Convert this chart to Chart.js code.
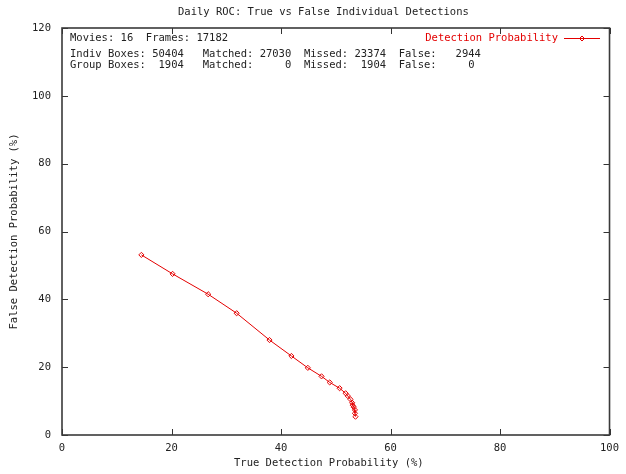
<!DOCTYPE html>
<html>
<head>
<meta charset="utf-8">
<script src="https://cdn.jsdelivr.net/npm/chart.js@4/dist/chart.umd.min.js"></script>
<style>
html,body{margin:0;padding:0;background:#fff;}
#wrap{width:626px;height:474px;}
</style>
</head>
<body>
<div id="wrap"><canvas id="c" width="626" height="474"></canvas></div>
<script>
// ---- data ----
const chartTitle = "Daily ROC: True vs False Individual Detections";
const xTitle = "True Detection Probability (%)";
const yTitle = "False Detection Probability (%)";
const seriesName = "Detection Probability";
const trueDet  = [14.5, 20.2, 26.7, 31.9, 37.9, 41.9, 44.9, 47.4, 48.9, 50.7, 51.8, 52.2, 52.7, 53.0, 53.1, 53.3, 53.5, 53.5, 53.6];
const falseDet = [53.1, 47.5, 41.5, 35.9, 28.0, 23.3, 19.8, 17.3, 15.5, 13.8, 12.3, 11.5, 10.5, 9.5, 8.8, 8.2, 7.4, 6.4, 5.4];
const xTicks = [0, 20, 40, 60, 80, 100];
const yTicks = [0, 20, 40, 60, 80, 100, 120];
const statLines = [
  "Movies: 16  Frames: 17182",
  "Indiv Boxes: 50404   Matched: 27030  Missed: 23374  False:   2944",
  "Group Boxes:  1904   Matched:     0  Missed:  1904  False:     0"
];

const FONT = "'DejaVu Sans Mono', 'Liberation Mono', monospace";
const FS = 10.5;
const RED = "rgb(228,0,0)";
const INK = "#222";

const points = trueDet.map((x, i) => ({x: x, y: falseDet[i]}));

const decor = {
  id: 'decor',
  afterDraw(chart) {
    const ctx = chart.ctx;
    const ca = chart.chartArea;
    const xs = chart.scales.x, ys = chart.scales.y;
    ctx.save();
    // ticks (inward, mirrored)
    ctx.strokeStyle = "#333";
    ctx.lineWidth = 1;
    const tl = 6;
    xTicks.forEach(v => {
      const p = Math.round(xs.getPixelForValue(v)) + 0.5;
      ctx.beginPath();
      ctx.moveTo(p, ca.bottom); ctx.lineTo(p, ca.bottom - tl);
      ctx.moveTo(p, ca.top); ctx.lineTo(p, ca.top + tl);
      ctx.stroke();
    });
    yTicks.forEach(v => {
      const p = Math.round(ys.getPixelForValue(v)) + 0.5;
      ctx.beginPath();
      ctx.moveTo(ca.left, p); ctx.lineTo(ca.left + tl, p);
      ctx.moveTo(ca.right, p); ctx.lineTo(ca.right - tl, p);
      ctx.stroke();
    });
    // frame
    ctx.strokeStyle = "#3a3a3a";
    ctx.lineWidth = 1.6;
    ctx.strokeRect(ca.left, ca.top, ca.right - ca.left, ca.bottom - ca.top);
    // title
    ctx.font = FS + "px " + FONT;
    ctx.fillStyle = INK;
    ctx.textBaseline = "middle";
    ctx.textAlign = "left";
    ctx.fillText(chartTitle, 178, 12);
    // x axis title
    ctx.fillText(xTitle, 234, 463);
    // stats text
    const ys0 = [38, 54.5, 65.5];
    statLines.forEach((s, i) => ctx.fillText(s, ca.left + 8, ys0[i]));
    // legend
    ctx.fillStyle = RED;
    ctx.textAlign = "right";
    ctx.fillText(seriesName, 558, 38);
    ctx.strokeStyle = RED;
    ctx.lineWidth = 1;
    ctx.beginPath();
    ctx.moveTo(564, 38.5); ctx.lineTo(600, 38.5);
    ctx.stroke();
    ctx.beginPath();
    ctx.moveTo(582, 36); ctx.lineTo(584.5, 38.5); ctx.lineTo(582, 41); ctx.lineTo(579.5, 38.5); ctx.closePath();
    ctx.stroke();
    ctx.restore();
  }
};

new Chart(document.getElementById('c'), {
  type: 'scatter',
  data: {
    datasets: [{
      label: seriesName,
      data: points,
      showLine: true,
      borderColor: RED,
      borderWidth: 1,
      backgroundColor: 'rgba(0,0,0,0)',
      pointStyle: 'rectRot',
      pointRadius: 2.6,
      pointBorderWidth: 1,
      pointBorderColor: RED,
      pointBackgroundColor: 'rgba(255,255,255,0)',
      tension: 0
    }]
  },
  options: {
    responsive: false,
    animation: false,
    devicePixelRatio: 1,
    layout: {padding: {top: 28, right: 14, bottom: 0, left: 0}},
    plugins: {legend: {display: false}, title: {display: false}, tooltip: {enabled: false}},
    scales: {
      x: {
        type: 'linear', min: 0, max: 100,
        afterFit(s) { s.height = 39; },
        afterBuildTicks(s) { s.ticks = xTicks.map(v => ({value: v})); },
        grid: {display: false, drawTicks: false},
        border: {display: false},
        ticks: {padding: 7, color: INK, font: {family: FONT, size: FS}, maxRotation: 0, autoSkip: false},
        title: {display: false}
      },
      y: {
        type: 'linear', min: 0, max: 120,
        afterFit(s) { s.width = 62; },
        afterBuildTicks(s) { s.ticks = yTicks.map(v => ({value: v})); },
        grid: {display: false, drawTicks: false},
        border: {display: false},
        ticks: {padding: 11, color: INK, font: {family: FONT, size: FS}, autoSkip: false},
        title: {display: true, text: yTitle, color: INK, font: {family: FONT, size: FS}, padding: {top: 7.7, bottom: 0}}
      }
    }
  },
  plugins: [decor]
});
</script>
</body>
</html>
